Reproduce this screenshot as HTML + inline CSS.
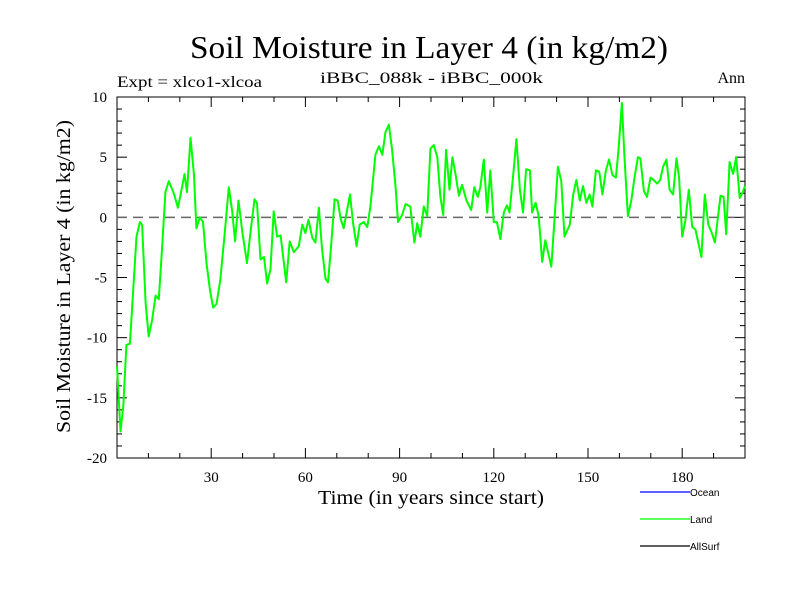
<!DOCTYPE html>
<html><head><meta charset="utf-8"><style>
body{margin:0;background:#fff;}
svg{display:block;}
text{font-family:"Liberation Serif",serif;fill:#000;}
</style></head><body>
<svg id="chart" width="800" height="600">
<text x="190" y="58" font-size="32" textLength="478" lengthAdjust="spacingAndGlyphs">Soil Moisture in Layer 4 (in kg/m2)</text>
<text x="117" y="87" font-size="16" textLength="145" lengthAdjust="spacingAndGlyphs">Expt = xlco1-xlcoa</text>
<text x="320" y="83" font-size="16" textLength="223" lengthAdjust="spacingAndGlyphs">iBBC_088k - iBBC_000k</text>
<text x="745" y="83" font-size="16" text-anchor="end">Ann</text>
<text x="318" y="504" font-size="20" textLength="226" lengthAdjust="spacingAndGlyphs">Time (in years since start)</text>
<text transform="translate(70,433) rotate(-90)" font-size="20" textLength="313" lengthAdjust="spacingAndGlyphs">Soil Moisture in Layer 4 (in kg/m2)</text>
<g id="axes"></g>
<g id="series"></g>
<g>
<line x1="640" y1="492" x2="690" y2="492" stroke="#0000ff" stroke-width="1.2"/>
<text x="690" y="496" font-size="10" style="font-family:'Liberation Sans',sans-serif">Ocean</text>
<line x1="640" y1="519" x2="690" y2="519" stroke="#00ff00" stroke-width="1.2"/>
<text x="690" y="523" font-size="10" style="font-family:'Liberation Sans',sans-serif">Land</text>
<line x1="640" y1="546" x2="690" y2="546" stroke="#000" stroke-width="1.2"/>
<text x="690" y="550" font-size="10" style="font-family:'Liberation Sans',sans-serif">AllSurf</text>
</g>
</svg>
<script>
const years = [0,1.1,2,3,4.1,6.2,7.3,8,9.1,10.1,11.2,12.3,13.3,14.4,15.4,16.5,18.1,19.4,20.4,21.5,22.3,23.4,24.5,25.3,26.4,27.4,28.5,29.6,30.6,31.7,32.9,34.2,35.6,36.7,37.6,38.7,39.9,41.4,42.5,43.8,44.6,45.7,46.8,47.8,48.9,49.9,51,52.1,
53.9,55,56.3,57.9,59,60,61,62.2,63.2,64.3,65.3,66.4,67.2,68.2,69.3,70.3,71.2,72.2,74.2,75.2,76.3,77.3,78.6,79.7,80.7,82.3,83.4,84.5,85.5,86.6,87.6,88.7,89.5,90.8,91.9,93.4,94.7,95.6,96.6,97.7,98.8,99.8,100.9,102,103,
103.9,104.8,105.9,106.8,107.8,108.9,109.9,111.3,112.8,113.8,114.9,115.7,116.8,117.9,118.9,120,121,122.1,123.2,124.2,125,126.2,127.2,128.3,129.3,130.3,131.5,132.2,133.3,134.3,135.4,136.4,138.3,139.3,140.4,141.5,142.5,144.2,145.3,146.3,147.4,148.4,149.5,150.5,
151.4,152.5,153.6,154.6,155.7,156.7,157.8,158.9,159.7,160.8,161.6,162.7,163.8,164.8,165.9,166.7,167.8,168.8,169.9,170.9,172,173,173.9,175,176,177.1,178.2,179,180,181,182.1,183.2,184.2,185.3,186.1,187.2,188.3,189.3,190.4,192.2,193.2,194,195.1,196.2,197.2,198.3,199.3,200];
const landValues = [-12.4,-17.8,-15.7,-10.6,-10.5,-1.6,-0.4,-0.6,-7.1,-9.9,-8.5,-6.5,-6.8,-2.4,2.1,3.0,2.0,0.8,2.1,3.6,2.1,6.6,3.6,-0.9,0,-0.4,-3.8,-6.0,-7.5,-7.2,-5.2,-1.6,2.5,0.5,-2.0,1.4,-1.2,-3.8,-1.3,1.5,1.2,-3.5,-3.3,-5.5,-4.3,0.5,-1.6,-1.5,
-5.4,-2.0,-2.9,-2.4,-0.6,-1.3,-0.2,-1.7,-2.1,0.8,-2.6,-5.1,-5.4,-2.4,1.5,1.4,-0.1,-0.9,1.9,-0.5,-2.4,-0.6,-0.4,-0.8,0.9,5.2,5.9,5.2,7.1,7.7,5.6,2.6,-0.4,0.2,1.1,0.9,-2.1,-0.5,-1.6,0.9,0.1,5.7,6.0,5.0,1.7,
0.2,5.6,2.3,5.0,3.6,1.8,2.7,1.4,0.6,2.5,1.7,2.5,4.8,0.4,3.9,-0.4,-0.4,-1.8,0.4,1.0,0.4,3.6,6.5,2.3,0.4,4.0,3.9,0.4,1.2,0.1,-3.7,-1.9,-4.1,-0.3,4.2,3.0,-1.6,-0.6,1.9,3.1,1.4,2.6,1.2,1.9,
0.9,3.9,3.8,1.9,3.9,4.8,3.5,3.3,5.6,9.5,5.1,0.1,1.4,3.3,5.0,4.9,2.2,1.7,3.3,3.1,2.8,3.1,4.2,4.8,2.3,1.9,4.9,3.3,-1.6,-0.3,2.3,-0.8,-1.0,-2.3,-3.3,1.9,-0.6,-1.2,-2.1,1.8,1.7,-1.4,4.6,3.6,5.0,1.6,2.1,2.6];
const yTickLabels = [-20,-15,-10,-5,0,5,10];
const xTickLabels = [30,60,90,120,150,180];

const NS='http://www.w3.org/2000/svg';
const L=117,R=745,T=97,B=458;
const xS=t=>L+(t-0)*(R-L)/200;
const yS=v=>B-(v+20)*(B-T)/30;
function mk(tag,attrs,parent){const e=document.createElementNS(NS,tag);for(const k in attrs)e.setAttribute(k,attrs[k]);parent.appendChild(e);return e;}
const ax=document.getElementById('axes');
const frame=mk('rect',{x:L,y:T,width:R-L,height:B-T,fill:'none',stroke:'#000','stroke-width':1},ax);


for(let v=-20;v<=10;v++){
  const major=v%5===0, len=major?10:5, y=yS(v);
  const t1=mk('line',{x1:L,y1:y,x2:L+len,y2:y,stroke:'#000','stroke-width':1},ax);
  
  
  const t2=mk('line',{x1:R,y1:y,x2:R-len,y2:y,stroke:'#000','stroke-width':1},ax);
  
  
}
yTickLabels.forEach(v=>{
  const tx=mk('text',{x:107,y:yS(v)+5,'font-size':15,'text-anchor':'end'},ax);
  tx.textContent=v;
  
  
});
for(let t=10;t<200;t+=10){
  const major=t%30===0,len=major?10:5,x=xS(t);
  const t1=mk('line',{x1:x,y1:B,x2:x,y2:B-len,stroke:'#000','stroke-width':1},ax);
  
  
  const t2=mk('line',{x1:x,y1:T,x2:x,y2:T+len,stroke:'#000','stroke-width':1},ax);
  
  
}
xTickLabels.forEach(t=>{
  const tx=mk('text',{x:xS(t),y:482,'font-size':15,'text-anchor':'middle'},ax);
  tx.textContent=t;
  
  
});
const zl=mk('line',{x1:L,y1:yS(0),x2:R,y2:yS(0),stroke:'#666','stroke-width':1.5,'stroke-dasharray':'10,6'},ax);


const sg=document.getElementById('series');
const pts=years.map((t,i)=>xS(t).toFixed(1)+','+yS(landValues[i]).toFixed(1)).join(' ');
const pl=mk('polyline',{points:pts,fill:'none',stroke:'#00ff00','stroke-width':2,'stroke-linejoin':'round'},sg);


</script>
</body></html>
